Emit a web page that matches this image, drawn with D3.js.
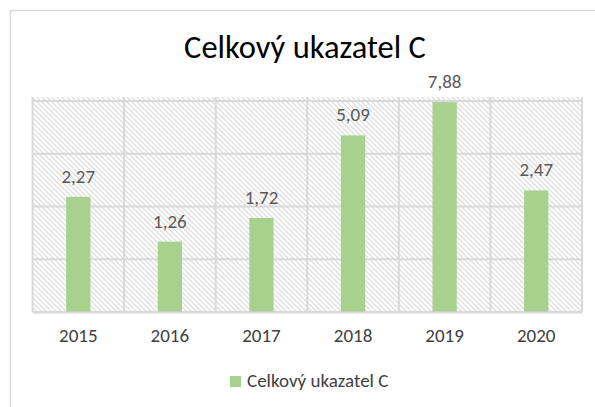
<!DOCTYPE html>
<html>
<head>
<meta charset="utf-8">
<script src="https://cdn.jsdelivr.net/npm/d3@7"></script>
<style>
  body { margin: 0; background: #fff; }
  svg { display: block; }
  text { font-family: Calibri, Carlito, 'Open Sans', sans-serif; }
</style>
</head>
<body>
<div id="chart"></div>
<script>
var years = ['2015', '2016', '2017', '2018', '2019', '2020']
var values = [2.27, 1.26, 1.72, 5.09, 7.88, 2.47]
var gridValues = [0.5, 1, 2, 4, 8]
var title = 'Celkový ukazatel C'
var seriesName = 'Celkový ukazatel C'

var width = 595
var height = 407
var barColor = '#a9d18e'
var gridColor = '#d9d9d9'
var labelColor = '#595959'

var plot = { left: 32.5, right: 582, top: 97, bottom: 312 }

var fmt = function(v) { return d3.format('.2f')(v).replace('.', ',') }

function go () {
  var svg = d3.select('#chart').append('svg').attr('width', width).attr('height', height)

  svg.append('rect').attr('width', width).attr('height', height).attr('fill', '#fff')

  // chart area border (only top and left visible in the crop)
  svg.append('path')
    .attr('d', 'M10.5,' + height + 'V10.5H' + width)
    .attr('fill', 'none').attr('stroke', gridColor).attr('stroke-width', 1.5)

  var defs = svg.append('defs')
  var pat = defs.append('pattern')
    .attr('id', 'hatch').attr('patternUnits', 'userSpaceOnUse')
    .attr('width', 5).attr('height', 5)
  pat.append('rect').attr('width', 5).attr('height', 5).attr('fill', '#fff')
  pat.append('path')
    .attr('d', 'M-1,-1L6,6M-1,4L1,6M4,-1L6,1')
    .attr('stroke', '#dadada').attr('stroke-width', 1.2)

  var x = d3.scaleBand().domain(years).range([plot.left, plot.right]).padding(0)
  var y = d3.scaleLog().base(2).domain([0.5, 8]).range([plot.bottom, plot.top + 4])

  svg.append('rect')
    .attr('x', plot.left).attr('y', plot.top)
    .attr('width', plot.right - plot.left).attr('height', plot.bottom - plot.top)
    .attr('fill', 'url(#hatch)')

  // horizontal gridlines
  svg.append('g').selectAll('line')
    .data(gridValues)
    .enter().append('line')
    .attr('x1', plot.left).attr('x2', plot.right)
    .attr('y1', function(d) { return y(d) }).attr('y2', function(d) { return y(d) })
    .attr('stroke', gridColor).attr('stroke-width', 2)

  // vertical gridlines at category edges
  var edges = years.map(function(d) { return x(d) }).concat([plot.right])
  svg.append('g').selectAll('line')
    .data(edges)
    .enter().append('line')
    .attr('x1', function(d) { return d }).attr('x2', function(d) { return d })
    .attr('y1', plot.top).attr('y2', plot.bottom)
    .attr('stroke', gridColor).attr('stroke-width', 2)

  var barW = x.bandwidth() * 0.265

  svg.append('g').selectAll('rect')
    .data(values)
    .enter().append('rect')
    .attr('x', function(d, i) { return x(years[i]) + x.bandwidth() / 2 - barW / 2 })
    .attr('y', function(d) { return y(d) })
    .attr('width', barW)
    .attr('height', function(d) { return y(0.5) - y(d) })
    .attr('fill', barColor)

  svg.append('g').selectAll('text')
    .data(values)
    .enter().append('text')
    .attr('x', function(d, i) { return x(years[i]) + x.bandwidth() / 2 })
    .attr('y', function(d) { return y(d) - 14 })
    .attr('text-anchor', 'middle')
    .attr('fill', labelColor)
    .style('font-size', '19px')
    .text(fmt)

  // category axis
  var xAxis = svg.append('g')
    .attr('transform', 'translate(0,' + plot.bottom + ')')
    .call(d3.axisBottom(x).tickSize(0).tickPadding(17))
  xAxis.select('.domain').attr('stroke', gridColor).attr('stroke-width', 2)
  xAxis.selectAll('text')
    .attr('fill', '#404040')
    .style('font-size', '19px')
    .style('font-family', "Calibri, Carlito, 'Open Sans', sans-serif")

  svg.append('text')
    .attr('x', 305).attr('y', 58)
    .attr('text-anchor', 'middle')
    .attr('fill', '#000')
    .style('font-size', '32.5px')
    .text(title)

  // legend
  svg.append('rect')
    .attr('x', 230).attr('y', 376).attr('width', 11).attr('height', 11)
    .attr('fill', barColor)
  svg.append('text')
    .attr('x', 247).attr('y', 387)
    .attr('fill', '#404040')
    .style('font-size', '19px')
    .text(seriesName)
}

document.addEventListener('DOMContentLoaded', go)
</script>
</body>
</html>
